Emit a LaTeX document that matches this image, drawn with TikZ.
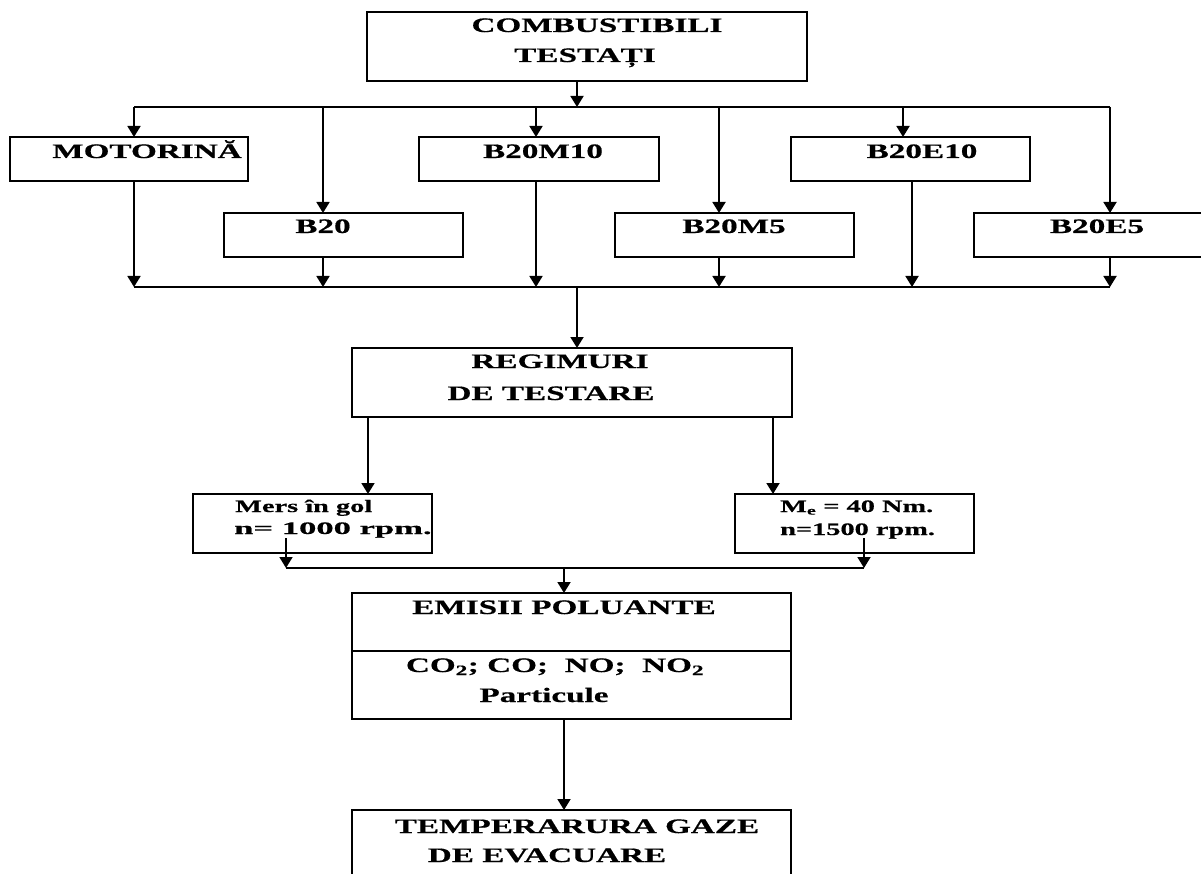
\documentclass[tikz,border=0pt]{standalone}
\usepackage{fontspec}
\setmainfont{Liberation Serif}[FakeStretch=1.62,FakeBold=0.6]
\usetikzlibrary{arrows.meta}
\begin{document}
\begin{tikzpicture}[x=1pt,y=-1pt,
  box/.style={draw, line width=1.3pt, inner sep=0pt, outer sep=0pt, anchor=north west, rectangle},
  conn/.style={line width=1.8pt},
  arr/.style={line width=1.8pt, -{Triangle[width=13pt,length=11pt]}},
  big/.style={inner sep=0pt, anchor=base, font=\bfseries\fontsize{20.5}{24}\selectfont},
  small/.style={inner sep=0pt, anchor=base west, font=\bfseries\fontsize{17.5}{20}\selectfont}]
\clip (0,0) rectangle (1201,874);
\fill[white] (0,0) rectangle (1201,874);
% boxes
\node[box, minimum width=440pt, minimum height=69pt] (top) at (367,12) {};
\node[box, minimum width=238pt, minimum height=44pt] (mot) at (10,137) {};
\node[box, minimum width=239pt, minimum height=44pt] (b20) at (224,213) {};
\node[box, minimum width=240pt, minimum height=44pt] (m10) at (419,137) {};
\node[box, minimum width=239pt, minimum height=44pt] (m5) at (615,213) {};
\node[box, minimum width=239pt, minimum height=44pt] (e10) at (791,137) {};
\node[box, minimum width=260pt, minimum height=44pt] (e5) at (974,213) {};
\node[box, minimum width=440pt, minimum height=69pt] (reg) at (352,348) {};
\node[box, minimum width=239pt, minimum height=59pt] (gol) at (193,494) {};
\node[box, minimum width=239pt, minimum height=59pt] (me) at (735,494) {};
\node[box, minimum width=439pt, minimum height=126pt] (emi) at (352,593) {};
\node[box, minimum width=439pt, minimum height=100pt] (tem) at (352,810) {};
\coordinate (dv) at (0,651);
\draw[line width=1.3pt] (emi.west |- dv) -- (emi.east |- dv);
% texts
\node[big] (t1) at (597,32) {COMBUSTIBILI};
\node[big] (t2) at (585,62) {TESTAȚI};
\node[big] (t3) at (147,158) {MOTORINĂ};
\node[big] (t4) at (323,233) {B20};
\node[big] (t5) at (543,158) {B20M10};
\node[big] (t6) at (734,233) {B20M5};
\node[big] (t7) at (922,158) {B20E10};
\node[big] (t8) at (1097,233) {B20E5};
\node[big] (t9) at (560,368) {REGIMURI};
\node[big] (t10) at (551,400) {DE TESTARE};
\node[small] (t11) at (235,512) {Mers în gol};
\node[small] (t12) at (234,534) {\scalebox{1.22}[1]{n= 1000 rpm.}};
\node[small] (t13) at (780,512) {M\textsubscript{e} = 40 Nm.};
\node[small] (t14) at (780,535) {n=1500 rpm.};
\node[big] (t15) at (564,614) {EMISII POLUANTE};
\node[big] (t16) at (555,672) {CO\textsubscript{2}; CO;\ \ NO;\ \ NO\textsubscript{2}};
\node[big] (t17) at (544,702) {Particule};
\node[big] (t18) at (577,833) {TEMPERARURA GAZE};
\node[big] (t19) at (547,862) {DE EVACUARE};
% bus coordinates
\coordinate (j1) at (577,107);
\coordinate (a1) at (134,107);
\coordinate (a2) at (323,107);
\coordinate (a3) at (536,107);
\coordinate (a4) at (719,107);
\coordinate (a5) at (903,107);
\coordinate (a6) at (1110,107);
\coordinate (j2) at (577,287);
\coordinate (b1) at (134,287);
\coordinate (b2) at (323,287);
\coordinate (b3) at (536,287);
\coordinate (b4) at (719,287);
\coordinate (b5) at (912,287);
\coordinate (b6) at (1110,287);
\draw[conn] (a1) -- (a6);
\draw[conn] (b1) -- (b6);
\draw[arr] (top.south -| j1) -- (j1);
\draw[arr] (a1) -- (a1 |- mot.north);
\draw[arr] (a2) -- (a2 |- b20.north);
\draw[arr] (a3) -- (a3 |- m10.north);
\draw[arr] (a4) -- (a4 |- m5.north);
\draw[arr] (a5) -- (a5 |- e10.north);
\draw[arr] (a6) -- (a6 |- e5.north);
\draw[arr] (mot.south -| b1) -- (b1);
\draw[arr] (b20.south -| b2) -- (b2);
\draw[arr] (m10.south -| b3) -- (b3);
\draw[arr] (m5.south -| b4) -- (b4);
\draw[arr] (e10.south -| b5) -- (b5);
\draw[arr] (e5.south -| b6) -- (b6);
\draw[arr] (j2) -- (j2 |- reg.north);
\coordinate (r1) at (368,494);
\coordinate (r2) at (773,494);
\draw[arr] (reg.south -| r1) -- (r1 |- gol.north);
\draw[arr] (reg.south -| r2) -- (r2 |- me.north);
\coordinate (g1) at (286,538);
\coordinate (g2) at (864,538);
\coordinate (c1) at (286,568);
\coordinate (c2) at (864,568);
\coordinate (j3) at (564,568);
\draw[arr] (g1) -- (c1);
\draw[arr] (g2) -- (c2);
\draw[conn] (c1) -- (c2);
\draw[arr] (j3) -- (j3 |- emi.north);
\draw[arr] (emi.south -| j3) -- (j3 |- tem.north);
\end{tikzpicture}
\end{document}
